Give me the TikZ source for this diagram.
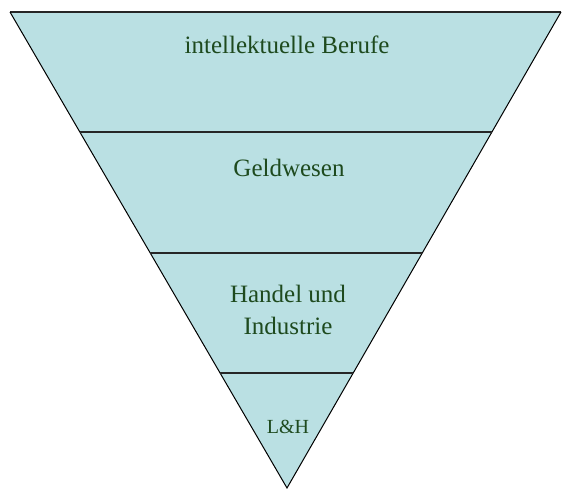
\documentclass[tikz,border=0pt]{standalone}
\usepackage{fontspec}
\setmainfont{Liberation Serif}
\definecolor{fillblue}{HTML}{BAE0E3}
\definecolor{txtgreen}{HTML}{1E4A1E}
\tikzset{
  lvl/.style={text=txtgreen, align=center, anchor=base, inner sep=0pt, font=\fontsize{25}{32}\selectfont},
  edge/.style={draw=black!85, line width=1.2pt}
}
\begin{document}
\begin{tikzpicture}[x=1pt,y=-1pt]
\useasboundingbox (0,0) rectangle (562,488);
\coordinate (tl) at (10,12);
\coordinate (tr) at (561,12);
\coordinate (ap) at (287,488);
\fill[fillblue] (tl) -- (tr) -- (ap) -- cycle;
\draw[edge] (tl) -- (tr);
\draw[black, line width=1pt] (tl) -- (ap) -- (tr);
% dividers
\foreach \yy/\nm in {132/a,253/b,373/c}{
  \path (tl) -- (ap) coordinate[pos={(\yy-12)/476}] (l\nm);
  \path (tr) -- (ap) coordinate[pos={(\yy-12)/476}] (r\nm);
  \draw[edge] (l\nm) -- (r\nm);
}
\node[lvl] (t1) at (287,53) {intellektuelle Berufe};
\node[lvl] (t2) at (289,176) {Geldwesen};
\node[lvl] (t3) at (288,334) {Handel und\\Industrie};
\node[lvl, font=\fontsize{20}{24}\selectfont] (t4) at (288,433) {L\&H};
\end{tikzpicture}
\end{document}
